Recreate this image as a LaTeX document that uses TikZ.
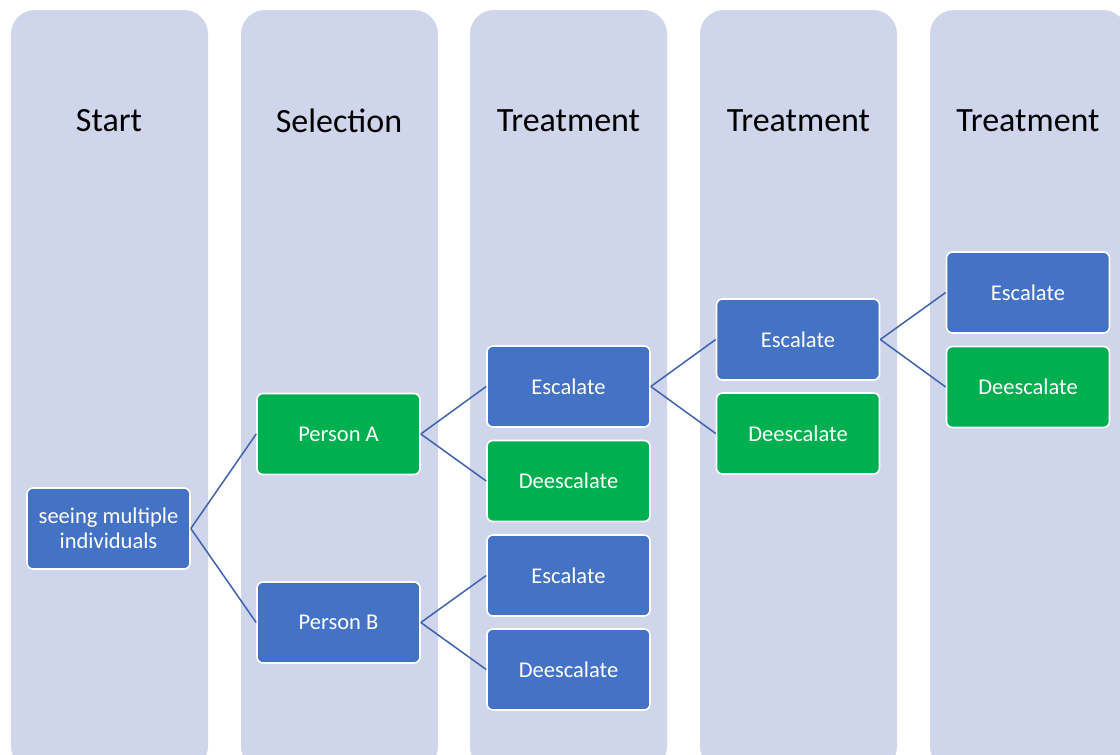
\documentclass[tikz,border=0pt]{standalone}
\usepackage{fontspec}
\setmainfont{Carlito}
\begin{document}
\begin{tikzpicture}[x=1pt,y=-1pt,
  lane/.style={fill=laneC, draw=none, rounded corners=24pt},
  title/.style={font=\fontsize{34}{40}\selectfont, text=black, anchor=center},
  box/.style={draw=white, line width=1.6pt, rounded corners=6pt, minimum width=163pt, minimum height=81pt, inner sep=0pt, text=white, align=center, font=\fontsize{22.5}{25}\selectfont},
  bluebox/.style={box, fill=boxBlue},
  greenbox/.style={box, fill=boxGreen},
  link/.style={draw=lineC, line width=1.5pt}]
\definecolor{laneC}{HTML}{CFD5EA}
\definecolor{boxBlue}{HTML}{4472C4}
\definecolor{boxGreen}{HTML}{00B050}
\definecolor{lineC}{HTML}{3F62AE}
\useasboundingbox (0,0) rectangle (1120,755);
\clip (0,0) rectangle (1120,755);
% lanes
\foreach \xl in {11,241,470,700,930}{
  \path[lane] (\xl,10) rectangle ++(197,760);
}
% titles
\node[title] (t1) at (109,121) {Start};
\node[title] (t2) at (339,121) {Selection};
\node[title] (t3) at (568.5,121) {Treatment};
\node[title] (t4) at (798.5,121) {Treatment};
\node[title] (t5) at (1028,121) {Treatment};
% nodes
\node[bluebox] (s) at (108.5,528.5) {seeing multiple\\individuals};
\node[greenbox] (pa) at (338.5,434) {Person A};
\node[bluebox] (pb) at (338.5,622.5) {Person B};
\node[bluebox] (e1) at (568.5,386.5) {Escalate};
\node[greenbox] (d1) at (568.5,481) {Deescalate};
\node[bluebox] (e2) at (568.5,575.5) {Escalate};
\node[bluebox] (d2) at (568.5,669.5) {Deescalate};
\node[bluebox] (e3) at (798,339.5) {Escalate};
\node[greenbox] (d3) at (798,433.5) {Deescalate};
\node[bluebox] (e4) at (1028,292.5) {Escalate};
\node[greenbox] (d4) at (1028,387) {Deescalate};
% links
\draw[link] (s.east) -- (pa.west);
\draw[link] (s.east) -- (pb.west);
\draw[link] (pa.east) -- (e1.west);
\draw[link] (pa.east) -- (d1.west);
\draw[link] (pb.east) -- (e2.west);
\draw[link] (pb.east) -- (d2.west);
\draw[link] (e1.east) -- (e3.west);
\draw[link] (e1.east) -- (d3.west);
\draw[link] (e3.east) -- (e4.west);
\draw[link] (e3.east) -- (d4.west);
\end{tikzpicture}
\end{document}
